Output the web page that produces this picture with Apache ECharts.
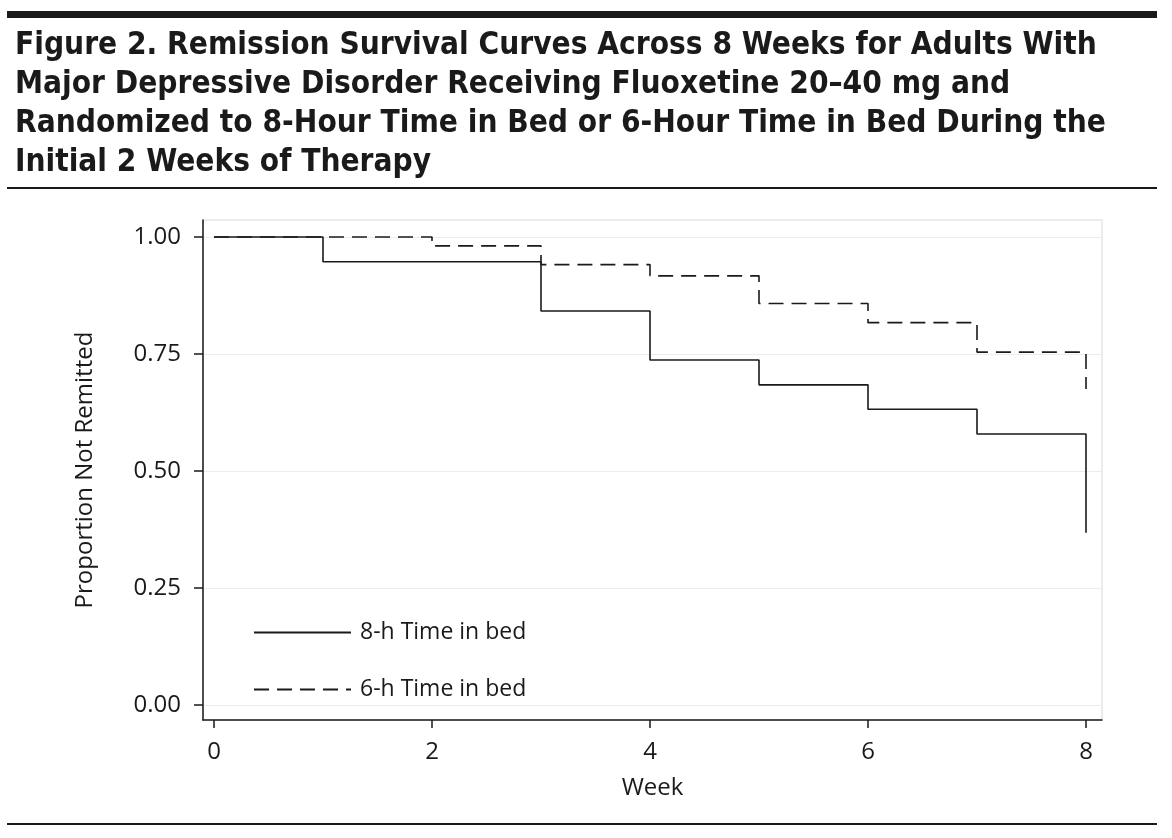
<!DOCTYPE html>
<html>
<head>
<meta charset="utf-8">
<script src="https://cdn.jsdelivr.net/npm/echarts@6/dist/echarts.min.js"></script>
<style>
html,body{margin:0;padding:0;background:#fff;}
#chart{width:1172px;height:838px;}
</style>
</head>
<body>
<div id="chart"></div>
<script>
// ---- data ----
const titleLines = [
  'Figure 2. Remission Survival Curves Across 8 Weeks for Adults With',
  'Major Depressive Disorder Receiving Fluoxetine 20\u201340 mg and',
  'Randomized to 8-Hour Time in Bed or 6-Hour Time in Bed During the',
  'Initial 2 Weeks of Therapy'
];
const seriesNames = ['8-h Time in bed', '6-h Time in bed'];
const weeks8h = [0, 1, 3, 4, 5, 6, 7, 8];
const surv8h  = [1.00, 0.947, 0.842, 0.737, 0.684, 0.632, 0.579, 0.368];
const weeks6h = [0, 2, 3, 4, 5, 6, 7, 8];
const surv6h  = [1.00, 0.981, 0.941, 0.917, 0.858, 0.817, 0.754, 0.675];
const xTicks = [0, 2, 4, 6, 8];
const yTicks = [0, 0.25, 0.50, 0.75, 1.00];
const xName = 'Week';
const yName = 'Proportion Not Remitted';

// ---- layout helpers ----
const ink = '#1a1a1a';
const titleFont = '"Liberation Sans Narrow", "DejaVu Sans Condensed", sans-serif';
const axisFont = '"Open Sans", "Noto Sans", sans-serif';
function fitSize(text, family, weight, target) {
  const c = document.createElement('canvas').getContext('2d');
  c.font = weight + ' 100px ' + family;
  return 100 * target / c.measureText(text).width;
}
const titleSize = fitSize(titleLines[0], titleFont, 'bold', 1082);

const chart = echarts.init(document.getElementById('chart'), null, {renderer: 'canvas'});
const titleY = [46, 85, 124, 163];
const graphics = [
  {type: 'rect', shape: {x: 7, y: 11, width: 1150, height: 7}, style: {fill: ink}, silent: true},
  {type: 'rect', shape: {x: 7, y: 187, width: 1150, height: 2}, style: {fill: ink}, silent: true},
  {type: 'rect', shape: {x: 7, y: 823, width: 1150, height: 2}, style: {fill: ink}, silent: true}
];
titleLines.forEach((t, i) => {
  graphics.push({type: 'text', x: 15, y: titleY[i], silent: true,
    style: {text: t, fill: ink, font: 'bold ' + titleSize.toFixed(2) + 'px ' + titleFont,
            textVerticalAlign: 'middle', verticalAlign: 'middle'}});
});

const option = {
  animation: false,
  backgroundColor: '#fff',
  graphic: graphics,
  grid: {left: 203, right: 70, top: 220, bottom: 118, show: true,
         borderColor: '#e6e6e6', borderWidth: 1.5, backgroundColor: 'transparent'},
  legend: {
    orient: 'vertical', left: 253, top: 621, itemWidth: 97, itemHeight: 14, itemGap: 34,
    padding: 0, selectedMode: false,
    itemStyle: {opacity: 0},
    textStyle: {fontFamily: axisFont, fontSize: 23, color: ink, padding: [0, 0, 0, 4]},
    data: seriesNames
  },
  xAxis: {
    type: 'value', min: -0.1009, max: 8.1468,
    name: xName, nameLocation: 'middle', nameGap: 56,
    nameTextStyle: {fontFamily: axisFont, fontSize: 24, color: ink},
    axisLine: {onZero: false, lineStyle: {color: ink, width: 1.5}},
    axisTick: {show: true, inside: false, length: 8, lineStyle: {color: ink, width: 1.5}, customValues: xTicks},
    axisLabel: {customValues: xTicks, margin: 20, fontFamily: axisFont, fontSize: 24, color: ink,
                formatter: v => String(Math.round(v))},
    splitLine: {show: false}
  },
  yAxis: {
    type: 'value', min: -0.0321, max: 1.0363,
    name: yName, nameLocation: 'middle', nameGap: 106, nameRotate: 90,
    nameTextStyle: {fontFamily: axisFont, fontSize: 24, color: ink},
    axisLine: {show: true, onZero: false, lineStyle: {color: ink, width: 1.5}},
    axisTick: {show: true, inside: false, length: 9, lineStyle: {color: ink, width: 1.5}, customValues: yTicks},
    axisLabel: {customValues: yTicks, margin: 22, fontFamily: axisFont, fontSize: 24, color: ink,
                formatter: v => v.toFixed(2)},
    splitLine: {show: true, lineStyle: {color: '#ececec', width: 1.2}}
  },
  series: [
    {
      name: seriesNames[0], type: 'line', step: 'end', symbol: 'none',
      lineStyle: {color: ink, width: 1.6, type: 'solid'},
      itemStyle: {color: ink},
      data: weeks8h.map((w, i) => [w, surv8h[i]]),
      z: 3
    },
    {
      name: seriesNames[1], type: 'line', step: 'end', symbol: 'none',
      lineStyle: {color: ink, width: 1.6, type: [15, 8]},
      itemStyle: {color: ink},
      data: weeks6h.map((w, i) => [w, surv6h[i]]),
      z: 2
    }
  ]
};
chart.setOption(option);
</script>
</body>
</html>
